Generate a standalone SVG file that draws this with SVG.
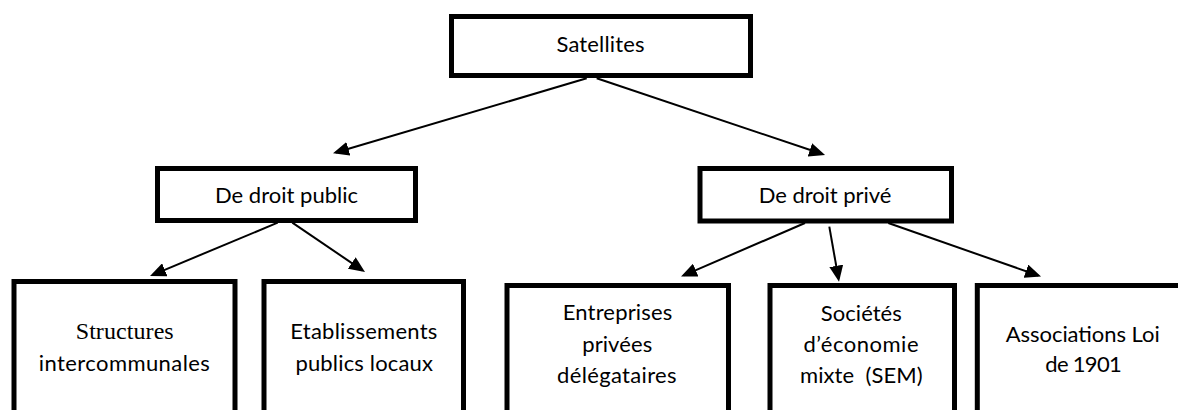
<svg xmlns="http://www.w3.org/2000/svg" width="1178" height="410" viewBox="0 0 1178 410">
<style>
.box{fill:#fff;stroke:#000;stroke-width:5}
.t{font-family:Lato,"Open Sans",sans-serif;font-size:22px;fill:#000;text-anchor:middle}
.s{font-family:"Liberation Serif","Times New Roman",serif;font-size:24px;fill:#000;text-anchor:middle}
.c{stroke:#000;stroke-width:2;fill:none;marker-end:url(#ah)}
</style>
<defs>
<marker id="ah" markerWidth="16" markerHeight="14" refX="13" refY="7" orient="auto" markerUnits="userSpaceOnUse">
<path d="M0,0 L16,7 L0,14 z" fill="#000"/>
</marker>
</defs>
<rect width="1178" height="410" fill="#fff"/>
<g id="connectors">
<line class="c" x1="586.7" y1="78.3" x2="335.9" y2="152.5"/>
<line class="c" x1="596.7" y1="78.3" x2="822.2" y2="154"/>
<line class="c" x1="277.7" y1="222.7" x2="152.8" y2="274.8"/>
<line class="c" x1="292.3" y1="222.7" x2="362.5" y2="270.3"/>
<line class="c" x1="805" y1="223" x2="683.8" y2="275.3"/>
<line class="c" x1="829.3" y1="226.7" x2="838.5" y2="278.7"/>
<line class="c" x1="888.3" y1="223" x2="1038.2" y2="275.5"/>
</g>
<g id="satellites">
<rect class="box" x="451.5" y="16.5" width="299" height="59"/>
<text class="t" x="600.5" y="52" textLength="88">Satellites</text>
</g>
<g id="droit-public">
<rect class="box" x="157.5" y="168.5" width="258" height="52"/>
<text class="t" x="286.5" y="203.3" textLength="143">De droit public</text>
</g>
<g id="droit-prive">
<rect class="box" x="700" y="168.5" width="251.5" height="52.5"/>
<text class="t" x="825" y="202.7" textLength="132.5">De droit privé</text>
</g>
<g id="structures">
<rect class="box" x="14" y="281.5" width="221" height="200"/>
<text class="s" x="124.7" y="339" textLength="98">Structures</text>
<text class="t" x="124.3" y="371" textLength="171">intercommunales</text>
</g>
<g id="etablissements">
<rect class="box" x="264" y="281.5" width="199.5" height="200"/>
<text class="t" x="363.8" y="339" textLength="147">Etablissements</text>
<text class="t" x="364.2" y="371" textLength="137.5">publics locaux</text>
</g>
<g id="entreprises">
<rect class="box" x="507" y="285.5" width="221.5" height="200"/>
<text class="t" x="617.5" y="320" textLength="109.5">Entreprises</text>
<text class="t" x="617.2" y="351.7" textLength="70">privées</text>
<text class="t" x="616.8" y="383.3" textLength="119.5">délégataires</text>
</g>
<g id="societes">
<rect class="box" x="770" y="285.5" width="184.5" height="200"/>
<text class="t" x="861.3" y="320.7" textLength="81">Sociétés</text>
<text class="t" x="861" y="351.7" textLength="115">d’économie</text>
<text class="t" x="861.3" y="383.3" textLength="122.5" xml:space="preserve">mixte  (SEM)</text>
</g>
<g id="associations">
<rect class="box" x="977.3" y="285.5" width="230" height="200"/>
<text class="t" x="1082.7" y="341.7" textLength="154">Associations Loi</text>
<text class="t" x="1083.5" y="372.3" textLength="76.5">de 1901</text>
</g>
</svg>
